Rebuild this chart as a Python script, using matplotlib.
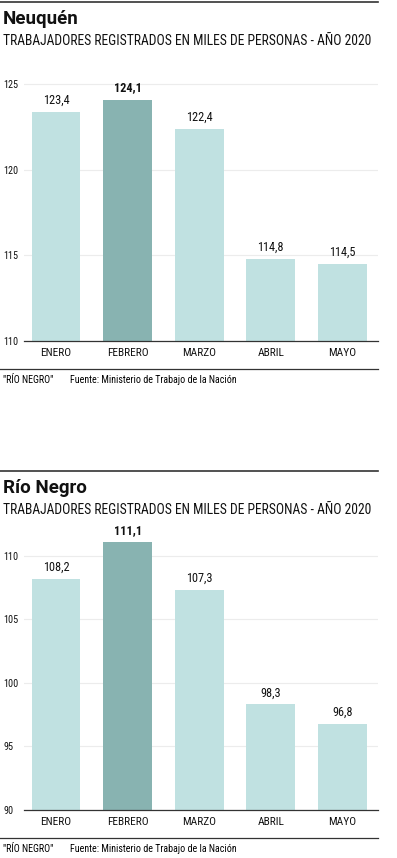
import matplotlib
matplotlib.use('Agg')
import matplotlib.pyplot as plt
from matplotlib.lines import Line2D

W, H = 397, 858

meses = ['ENERO', 'FEBRERO', 'MARZO', 'ABRIL', 'MAYO']
neuquen = [123.4, 124.1, 122.4, 114.8, 114.5]
rio_negro = [108.2, 111.1, 107.3, 98.3, 96.8]
neuquen_ticks = [110, 115, 120, 125]
rio_negro_ticks = [90, 95, 100, 105, 110]

subtitulo = 'TRABAJADORES REGISTRADOS EN MILES DE PERSONAS - AÑO 2020'
firma = '"RÍO NEGRO"'
fuente = 'Fuente: Ministerio de Trabajo de la Nación'

CLARO = '#c0e1e1'
OSCURO = '#88b3b1'
plt.rcParams['font.family'] = ['Roboto Condensed', 'Liberation Sans', 'DejaVu Sans']

fig = plt.figure(figsize=(W / 100, H / 100), dpi=100)


def fx(px):
    return px / W


def fy(py):
    return 1 - py / H


def rule(py, lw=1.2):
    fig.add_artist(Line2D([0, fx(378)], [fy(py), fy(py)], color='#333333',
                          lw=lw, transform=fig.transFigure))


def panel(titulo, valores, ticks, y_rule, y_ax_top, y_ax_bot, ymin, ymax, y_rule2):
    rule(y_rule)
    fig.text(fx(3), fy(y_rule + 17), titulo, fontsize=13.5, fontweight='bold',
             family=['Roboto', 'DejaVu Sans'], va='center', ha='left', color='#111111')
    fig.text(fx(3), fy(y_rule + 39), subtitulo, fontsize=9.8, va='center',
             ha='left', color='#111111')

    ax = fig.add_axes([fx(24), fy(y_ax_bot), fx(378) - fx(24),
                       fy(y_ax_top) - fy(y_ax_bot)])
    colores = [OSCURO if i == 1 else CLARO for i in range(len(valores))]
    x = list(range(len(valores)))
    ax.bar(x, [v - ymin for v in valores], bottom=ymin, width=0.68,
           color=colores, zorder=2)
    for i, v in enumerate(valores):
        ax.text(i, v + 0.3 * (ymax - ymin) / 17, f'{v:.1f}'.replace('.', ','),
                ha='center', va='bottom', fontsize=8.8,
                fontweight='bold' if i == 1 else 'normal', color='#111111')
    ax.set_xlim(-0.45, 4.5)
    ax.set_ylim(ymin, ymax)
    ax.set_yticks(ticks)
    ax.set_yticklabels([str(t) for t in ticks], fontsize=7.3, color='#111111',
                       ha='left')
    ax.set_xticks(x)
    ax.set_xticklabels(meses, fontsize=8.2, color='#111111')
    ax.tick_params(axis='both', length=0)
    ax.tick_params(axis='y', pad=15)
    ax.tick_params(axis='x', pad=5)
    ax.grid(axis='y', color='#ececec', lw=0.8, zorder=0)
    for s in ['top', 'right', 'left']:
        ax.spines[s].set_visible(False)
    ax.spines['bottom'].set_color('#333333')
    ax.spines['bottom'].set_linewidth(0.9)
    ax.spines['bottom'].set_zorder(3)

    rule(y_rule2, lw=0.9)
    fig.text(fx(3), fy(y_rule2 + 11), firma, fontsize=7.2, va='center', ha='left')
    fig.text(fx(70), fy(y_rule2 + 11), fuente, fontsize=7.2, va='center', ha='left')


panel('Neuquén', neuquen, neuquen_ticks, 2, 50, 341, 110, 127, 369)
panel('Río Negro', rio_negro, rio_negro_ticks, 471, 524, 810, 90, 112.5, 838)

fig.savefig('out.png', dpi=100)
